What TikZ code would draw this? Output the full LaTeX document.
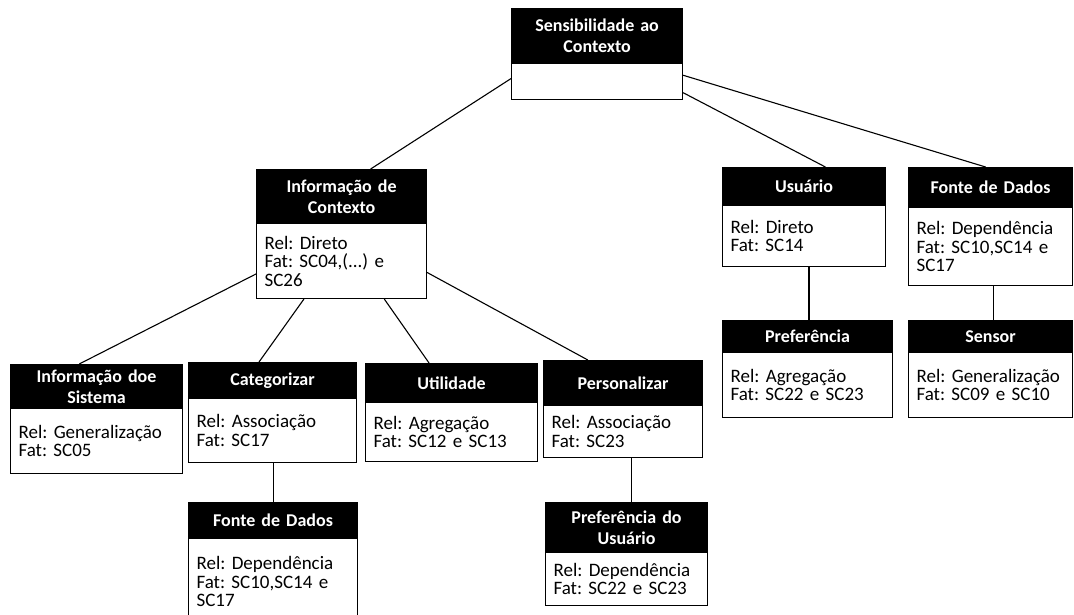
\documentclass[tikz,border=0pt]{standalone}
\usepackage{fontspec}
\setmainfont{Carlito}
\usetikzlibrary{calc}
\frenchspacing

% A box with a black title bar and a white body below it.
% #1 name, #2 left, #3 top, #4 right, #5 bottom of title bar, #6 bottom, #7 title, #8 body
\newcommand\ctxbox[8]{%
  \pgfmathsetmacro\ctxw{#4-#2}%
  \pgfmathsetmacro\ctxhh{#5-#3}%
  \pgfmathsetmacro\ctxbh{#6-#5}%
  \pgfmathsetmacro\ctxtw{#4-#2-16}%
  \node[hdrbox, minimum width=\ctxw pt, minimum height=\ctxhh pt, text width=\ctxtw pt] (#1h) at (#2,#3) {#7};
  \node[bodybox, minimum width=\ctxw pt, minimum height=\ctxbh pt, text width=\ctxtw pt] (#1b) at (#2,#5) {#8};
}

\tikzset{
  hdrbox/.style={draw=black, line width=1.1pt, fill=black, text=white, anchor=north west,
    inner sep=0pt, align=center, font=\fontsize{18}{21}\selectfont\bfseries\frenchspacing},
  bodybox/.style={draw=black, line width=1.1pt, fill=white, anchor=north west,
    inner xsep=8pt, inner ysep=0pt, align=left, font=\fontsize{19}{18.5}\selectfont\frenchspacing},
  link/.style={draw=black, line width=1.1pt}
}

\begin{document}
\begin{tikzpicture}[x=1pt, y=-1pt]
  \clip (0,0) rectangle (1074,615);
  \fill[white] (0,0) rectangle (1074,615);

  % boxes
  \ctxbox{top}{511}{8}{682}{63}{99}{Sensibilidade ao\\Contexto}{}
  \ctxbox{info}{256}{169}{426}{223}{298}{Informação de\\Contexto}{Rel: Direto\\Fat: SC04,(...) e\\SC26}
  \ctxbox{usu}{722}{167}{885}{205}{266}{Usuário}{Rel: Direto\\Fat: SC14}
  \ctxbox{fonteR}{908}{167}{1072}{207}{285}{Fonte de Dados}{Rel: Dependência\\Fat: SC10,SC14 e\\SC17}
  \ctxbox{pref}{722}{320}{892}{352}{417}{Preferência}{Rel: Agregação\\Fat: SC22 e SC23}
  \ctxbox{sensor}{908}{320}{1072}{352}{417}{Sensor}{Rel: Generalização\\Fat: SC09 e SC10}
  \ctxbox{sis}{10}{364}{182}{408}{473}{Informação doe\\Sistema}{Rel: Generalização\\Fat: SC05}
  \ctxbox{cat}{188}{362}{356}{398}{462}{Categorizar}{Rel: Associação\\Fat: SC17}
  \ctxbox{util}{365}{363}{537}{402}{461}{Utilidade}{Rel: Agregação\\Fat: SC12 e SC13}
  \ctxbox{pers}{543}{360}{702}{405}{457}{Personalizar}{Rel: Associação\\Fat: SC23}
  \ctxbox{fonteL}{188}{502}{357}{538}{624}{Fonte de Dados}{Rel: Dependência\\Fat: SC10,SC14 e\\SC17}
  \ctxbox{prefU}{545}{502}{707}{552}{605}{Preferência do\\Usuário}{Rel: Dependência\\Fat: SC22 e SC23}

  % connectors from the root
  \draw[link] ($(topb.north west)!0.42!(topb.south west)$) -- ($(infoh.north west)!0.67!(infoh.north east)$);
  \draw[link] ($(topb.north east)!0.33!(topb.south east)$) -- ($(fonteRh.north west)!0.47!(fonteRh.north east)$);
  \draw[link] ($(topb.north east)!0.8!(topb.south east)$) -- ($(usuh.north west)!0.63!(usuh.north east)$);

  % connectors from Informação de Contexto
  \draw[link] ($(infob.north west)!0.67!(infob.south west)$) -- ($(sish.north west)!0.40!(sish.north east)$);
  \draw[link] ($(infob.south west)!0.28!(infob.south east)$) -- ($(cath.north west)!0.42!(cath.north east)$);
  \draw[link] ($(infob.south west)!0.75!(infob.south east)$) -- ($(utilh.north west)!0.37!(utilh.north east)$);
  \draw[link] ($(infob.north east)!0.65!(infob.south east)$) -- ($(persh.north west)!0.28!(persh.north east)$);

  % vertical connectors
  \coordinate (cu) at ($(usub.south west)!0.53!(usub.south east)$);
  \draw[link] (cu) -- (cu |- prefh.north);
  \coordinate (cf) at ($(fonteRb.south west)!0.52!(fonteRb.south east)$);
  \draw[link] (cf) -- (cf |- sensorh.north);
  \coordinate (cc) at ($(catb.south west)!0.506!(catb.south east)$);
  \draw[link] (cc) -- (cc |- fonteLh.north);
  \coordinate (cp) at ($(persb.south west)!0.55!(persb.south east)$);
  \draw[link] (cp) -- (cp |- prefUh.north);
\end{tikzpicture}
\end{document}
